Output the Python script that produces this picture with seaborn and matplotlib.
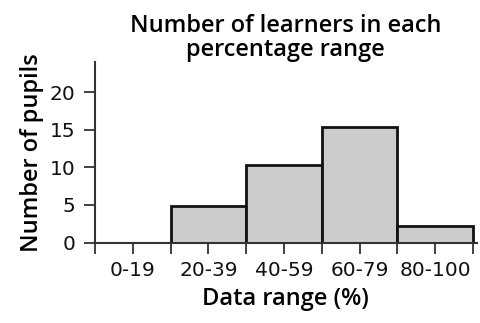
import matplotlib
matplotlib.use("Agg")
import matplotlib.pyplot as plt
import seaborn as sns
import pandas as pd

# Datos
ranges = ['0-19', '20-39', '40-59', '60-79', '80-100']
pupils = [0, 4.8, 10.3, 15.3, 2.2]
y_ticks = [0, 5, 10, 15, 20]

df = pd.DataFrame({'Range': ranges, 'Pupils': pupils})

sns.set_theme(style='ticks')
plt.rcParams['font.family'] = ['DejaVu Sans']

fig = plt.figure(figsize=(4.8, 3.23), dpi=100)
ax = fig.add_axes([0.198, 0.249, 0.795, 0.559])

sns.barplot(data=df, x='Range', y='Pupils', color='#cccccc', saturation=1,
            width=1.0, edgecolor='#111111', linewidth=2, ax=ax)

ax.set_xlim(-0.5, 4.55)
ax.set_ylim(0, 24)
ax.set_yticks(y_ticks)
ax.set_xticks(range(len(ranges)))
ax.set_xticklabels(ranges)
ax.set_xticks([i - 0.5 for i in range(len(ranges) + 1)], minor=True)

ax.tick_params(axis='both', which='both', length=8, width=1.3, color='#333333',
               labelsize=14.5, labelcolor='#111111')
ax.tick_params(axis='x', pad=5)
ax.tick_params(axis='y', pad=6)

for s in ['top', 'right']:
    ax.spines[s].set_visible(False)
for s in ['left', 'bottom']:
    ax.spines[s].set_linewidth(1.5)
    ax.spines[s].set_color('#333333')

lbl_font = dict(family=['Open Sans', 'DejaVu Sans'], fontsize=17, fontweight=600, color='#000000')
ax.set_xlabel('Data range (%)', labelpad=5, **lbl_font)
ax.set_ylabel('Number of pupils', labelpad=4, **lbl_font)
ax.set_title('Number of learners in each\npercentage range', pad=1, linespacing=0.98, **lbl_font)

fig.savefig('out.png', dpi=100)
